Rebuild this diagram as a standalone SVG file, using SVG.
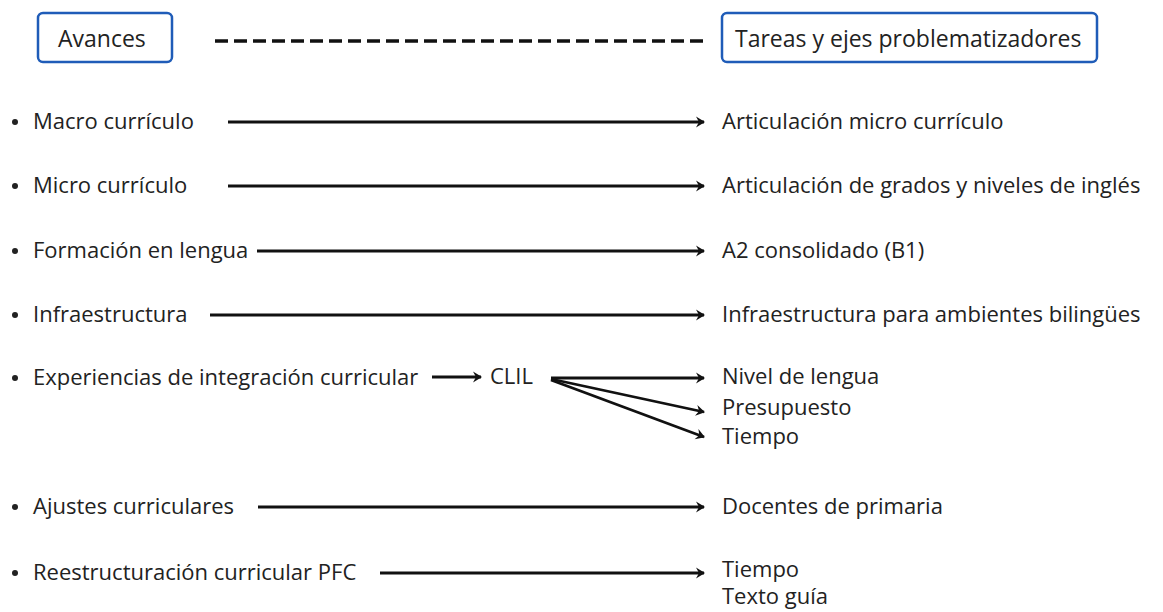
<svg xmlns="http://www.w3.org/2000/svg" width="1163" height="612" viewBox="0 0 1163 612">
<style>
text{font-family:"Open Sans","Liberation Sans",sans-serif;font-size:22px;fill:#222}
.bt{font-size:23px}
.box{fill:#fff;stroke:#1f5cb8;stroke-width:2.5}
.ln{stroke:#111;stroke-width:2.8;fill:none}
.dash{stroke:#111;stroke-width:3.5;stroke-dasharray:13 6;fill:none}
.dot{fill:#222}
</style>
<defs>
<marker id="ah" markerWidth="14" markerHeight="14" refX="11" refY="7" orient="auto" markerUnits="userSpaceOnUse">
<path d="M3,1.5 L12,7 L3,12.5 L6,7 Z" fill="#111"/>
</marker>
</defs>
<rect width="1163" height="612" fill="#fff"/>
<g id="avances"><rect class="box" x="38" y="13" width="134" height="49" rx="5"/><text class="bt" x="58" y="47">Avances</text></g>
<g id="tareas"><rect class="box" x="722" y="13" width="375" height="49" rx="5"/><text class="bt" x="735" y="47">Tareas y ejes problematizadores</text></g>
<g id="left-items">
<g id="l1"><circle class="dot" cx="15" cy="122" r="3"/><text x="33" y="129">Macro currículo</text></g>
<g id="l2"><circle class="dot" cx="15" cy="186" r="3"/><text x="33" y="193">Micro currículo</text></g>
<g id="l3"><circle class="dot" cx="15" cy="251" r="3"/><text x="33" y="258">Formación en lengua</text></g>
<g id="l4"><circle class="dot" cx="15" cy="315" r="3"/><text x="33" y="322">Infraestructura</text></g>
<g id="l5"><circle class="dot" cx="15" cy="378" r="3"/><text x="33" y="385">Experiencias de integración curricular</text></g>
<g id="clil"><text x="490" y="384">CLIL</text></g>
<g id="l6"><circle class="dot" cx="15" cy="507" r="3"/><text x="33" y="514">Ajustes curriculares</text></g>
<g id="l7"><circle class="dot" cx="15" cy="573" r="3"/><text x="33" y="580">Reestructuración curricular PFC</text></g>
</g>
<g id="right-items">
<g id="r1"><text x="722" y="129">Articulación micro currículo</text></g>
<g id="r2"><text x="722" y="193">Articulación de grados y niveles de inglés</text></g>
<g id="r3"><text x="722" y="258">A2 consolidado (B1)</text></g>
<g id="r4"><text x="722" y="322">Infraestructura para ambientes bilingües</text></g>
<g id="r5"><text x="722" y="384">Nivel de lengua</text><text x="722" y="415">Presupuesto</text><text x="722" y="444">Tiempo</text></g>
<g id="r6"><text x="722" y="514">Docentes de primaria</text></g>
<g id="r7"><text x="722" y="577">Tiempo</text><text x="722" y="604">Texto guía</text></g>
</g>
<g id="connectors">
<path class="dash" d="M215,41 H705"/>
<path class="ln" d="M228,122 H704" marker-end="url(#ah)"/>
<path class="ln" d="M228,186 H704" marker-end="url(#ah)"/>
<path class="ln" d="M257,251 H704" marker-end="url(#ah)"/>
<path class="ln" d="M210,315 H704" marker-end="url(#ah)"/>
<path class="ln" d="M432,377 H481" marker-end="url(#ah)"/>
<path class="ln" d="M551,378 H704" marker-end="url(#ah)"/>
<path class="ln" d="M551,379 L704,412" marker-end="url(#ah)"/>
<path class="ln" d="M551,380 L704,437" marker-end="url(#ah)"/>
<path class="ln" d="M258,507 H704" marker-end="url(#ah)"/>
<path class="ln" d="M380,573 H704" marker-end="url(#ah)"/>
</g>
</svg>
